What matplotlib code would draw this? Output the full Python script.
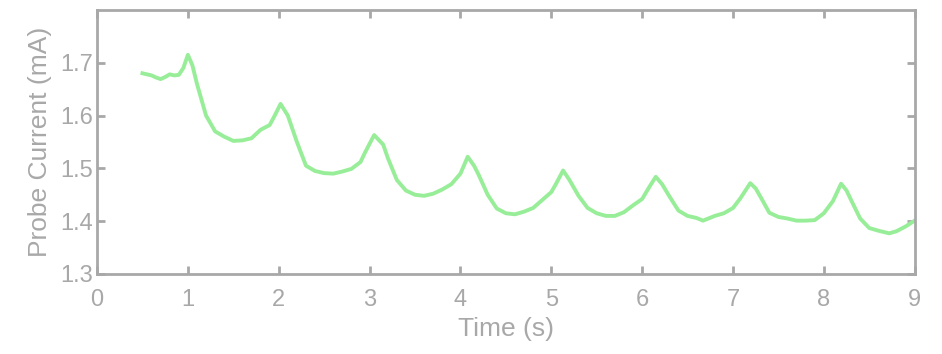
import matplotlib
matplotlib.use("Agg")
import matplotlib.pyplot as plt
import numpy as np

plt.rcParams["font.family"] = ["Liberation Sans", "DejaVu Sans"]

# 読み取った値（時間 s, 電流 mA）
time_s = [0.50, 0.55, 0.60, 0.65, 0.70, 0.75, 0.80, 0.85, 0.90, 0.95, 1.00,
          1.05, 1.10, 1.20, 1.30, 1.40, 1.50, 1.60, 1.70, 1.80, 1.90, 1.95, 2.02,
          2.10, 2.20, 2.30, 2.40, 2.50, 2.60, 2.70, 2.80, 2.90, 2.95, 3.05,
          3.15, 3.20, 3.30, 3.40, 3.50, 3.60, 3.70, 3.80, 3.90, 4.00, 4.08,
          4.15, 4.20, 4.30, 4.40, 4.50, 4.60, 4.70, 4.80, 4.90, 5.00, 5.05, 5.13,
          5.20, 5.30, 5.40, 5.50, 5.60, 5.70, 5.80, 5.90, 6.00, 6.08, 6.15,
          6.22, 6.30, 6.40, 6.50, 6.60, 6.67, 6.80, 6.90, 7.00, 7.08, 7.19,
          7.25, 7.30, 7.40, 7.50, 7.60, 7.70, 7.80, 7.90, 8.00, 8.10, 8.19,
          8.25, 8.30, 8.40, 8.50, 8.60, 8.72, 8.80, 8.90, 9.00]
current_ma = [1.680, 1.678, 1.676, 1.672, 1.669, 1.673, 1.678, 1.676, 1.677, 1.690, 1.715,
              1.695, 1.660, 1.600, 1.570, 1.560, 1.552, 1.553, 1.557, 1.573, 1.582, 1.598, 1.622,
              1.600, 1.550, 1.505, 1.495, 1.491, 1.490, 1.494, 1.499, 1.512, 1.530, 1.563,
              1.545, 1.520, 1.478, 1.458, 1.450, 1.448, 1.452, 1.460, 1.470, 1.490, 1.522,
              1.505, 1.488, 1.450, 1.424, 1.415, 1.413, 1.418, 1.425, 1.440, 1.455, 1.470, 1.496,
              1.478, 1.448, 1.425, 1.415, 1.410, 1.410, 1.417, 1.430, 1.442, 1.465, 1.484,
              1.470, 1.447, 1.420, 1.410, 1.406, 1.401, 1.410, 1.415, 1.425, 1.443, 1.472,
              1.462, 1.447, 1.416, 1.408, 1.405, 1.401, 1.401, 1.402, 1.415, 1.438, 1.471,
              1.458, 1.440, 1.405, 1.387, 1.382, 1.377, 1.381, 1.390, 1.401]

x_ticks = [0, 1, 2, 3, 4, 5, 6, 7, 8, 9]
y_ticks = [1.3, 1.4, 1.5, 1.6, 1.7]

gray = "#a8a8a8"

fig = plt.figure(figsize=(9.42, 3.54), dpi=100)
ax = fig.add_axes([0.103, 0.226, 0.868, 0.746])

ax.plot(time_s, current_ma, color="#98ee98", linewidth=2.8)

ax.set_xlim(0, 9)
ax.set_ylim(1.3, 1.8)
ax.set_xticks(x_ticks)
ax.set_yticks(y_ticks)
ax.set_yticklabels([f"{v:.1f}" for v in y_ticks])

for s in ax.spines.values():
    s.set_color(gray)
    s.set_linewidth(2)

ax.tick_params(direction="in", length=6, width=2, color=gray, labelcolor=gray,
               labelsize=17, top=True, right=True)
ax.tick_params(axis="x", pad=11)
ax.tick_params(axis="y", pad=3)
ax.set_xlabel("Time (s)", fontsize=19, color=gray, labelpad=4)
ax.set_ylabel("Probe Current (mA)", fontsize=19, color=gray, labelpad=6)

fig.savefig("out.png", dpi=100)
